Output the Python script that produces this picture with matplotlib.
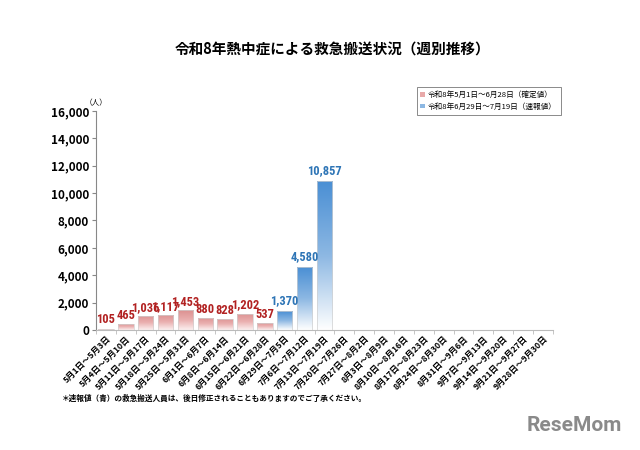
import numpy as np
import matplotlib
matplotlib.use('Agg')
import matplotlib.pyplot as plt
from matplotlib.patches import Patch
from matplotlib.colors import LinearSegmentedColormap

plt.rcParams['font.family'] = ['Noto Sans CJK JP', 'DejaVu Sans']

weeks = ['5月1日～5月3日', '5月4日～5月10日', '5月11日～5月17日', '5月18日～5月24日',
         '5月25日～5月31日', '6月1日～6月7日', '6月8日～6月14日', '6月15日～6月21日',
         '6月22日～6月28日', '6月29日～7月5日', '7月6日～7月12日', '7月13日～7月19日',
         '7月20日～7月26日', '7月27日～8月2日', '8月3日～8月9日', '8月10日～8月16日',
         '8月17日～8月23日', '8月24日～8月30日', '8月31日～9月6日', '9月7日～9月13日',
         '9月14日～9月20日', '9月21日～9月27日', '9月28日～9月30日']
confirmed = [105, 465, 1036, 1117, 1453, 880, 828, 1202, 537]
preliminary = [1370, 4580, 10857]

red_cmap = LinearSegmentedColormap.from_list('r', ['#fcf0f0', '#eab0b0', '#dc9090'])
blue_cmap = LinearSegmentedColormap.from_list('b', ['#ffffff', '#8db8e3', '#4a8fd4'])

num_font = ['Roboto Condensed', 'DejaVu Sans']

fig = plt.figure(figsize=(6.4, 4.5), dpi=100)
ax = fig.add_axes([0.15, 0.2667, 0.714, 0.4867])

x = np.arange(len(weeks))
width = 0.78


def gradient_bar(ax, xc, h, cmap):
    bar = ax.bar(xc, h, width=width, color='none', edgecolor='#d0d0d0', linewidth=0.5, zorder=3)[0]
    grad = np.linspace(0, 1, 256).reshape(-1, 1)
    im = ax.imshow(grad, cmap=cmap, aspect='auto', origin='lower',
                   extent=[xc - width / 2, xc + width / 2, 0, h], zorder=2)
    im.set_clip_path(bar)


for i, v in enumerate(confirmed):
    gradient_bar(ax, x[i], v, red_cmap)
    ax.text(x[i], v + 150, f'{v:,}', ha='center', va='bottom', color='#b22222',
            fontsize=9, fontweight='bold', zorder=5, family=num_font)

n0 = len(confirmed)
for j, v in enumerate(preliminary):
    gradient_bar(ax, x[n0 + j], v, blue_cmap)
    ax.text(x[n0 + j], v + 300, f'{v:,}', ha='center', va='bottom', color='#2e75b6',
            fontsize=9, fontweight='bold', zorder=5, family=num_font)

ax.set_xlim(-0.5, len(weeks) - 0.5)
ax.set_ylim(0, 16000)
ax.set_yticks(np.arange(0, 16001, 2000))
ax.set_yticklabels([f'{t:,}' for t in range(0, 16001, 2000)], fontsize=8.5, fontweight='bold')
ax.set_xticks(x)
ax.set_xticklabels(weeks, rotation=45, ha='right', rotation_mode='anchor',
                   fontsize=6.1, fontweight='bold')
ax.set_xticks(np.arange(-0.5, len(weeks)), minor=True)
ax.tick_params(axis='x', which='major', length=0, pad=3)
ax.tick_params(axis='x', which='minor', length=3, color='#bbbbbb')
ax.tick_params(axis='y', length=3, color='#888888', pad=2)
for s in ['top', 'right']:
    ax.spines[s].set_visible(False)
ax.spines['left'].set_color('#888888')
ax.spines['bottom'].set_color('#bbbbbb')

ax.text(0.0, 1.015, '（人）', transform=ax.transAxes, fontsize=5.5, ha='center', va='bottom')

fig.text(0.52, 0.89, '令和8年熱中症による救急搬送状況（週別推移）', ha='center', va='center',
         fontsize=10.5, fontweight='bold')

handles = [Patch(facecolor='#e8a9a9', edgecolor='none', label='令和8年5月1日～6月28日（確定値）'),
           Patch(facecolor='#8db8e3', edgecolor='none', label='令和8年6月29日～7月19日（速報値）')]
leg = fig.legend(handles=handles, loc='upper left', bbox_to_anchor=(0.645, 0.815),
                 fontsize=5.5, frameon=True, fancybox=False, handlelength=0.6, handleheight=0.6,
                 handletextpad=0.4, borderpad=0.5, labelspacing=0.5)
leg.get_frame().set_edgecolor('#555555')
leg.get_frame().set_linewidth(0.6)

fig.text(0.097, 0.115, '＊速報値（青）の救急搬送人員は、後日修正されることもありますのでご了承ください。',
         fontsize=5.5, fontweight='bold', va='center')

fig.text(0.972, 0.055, 'ReseMom', ha='right', va='center', fontsize=15,
         fontweight='bold', color='#8a8a8a', family=['Roboto', 'DejaVu Sans'])

fig.savefig('out.png', dpi=100)
